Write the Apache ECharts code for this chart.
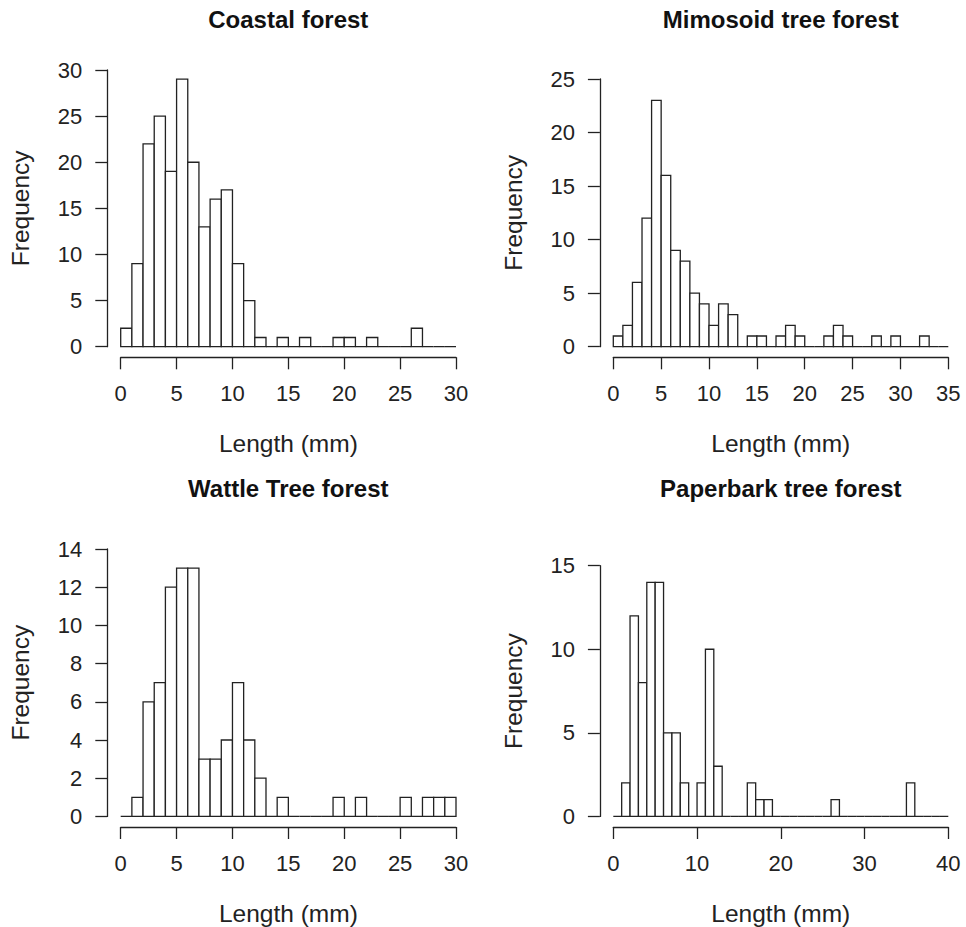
<!DOCTYPE html>
<html>
<head>
<meta charset="utf-8">
<script src="https://cdn.jsdelivr.net/npm/echarts@6/dist/echarts.min.js"></script>
<style>
  html, body { margin: 0; padding: 0; background: #fff; }
  #chart { width: 966px; height: 927px; }
</style>
</head>
<body>
<div id="chart"></div>
<script>
// histogram counts, bins of width 1 starting at 0
const coastalCounts = [2, 9, 22, 25, 19, 29, 20, 13, 16, 17, 9, 5, 1, 0, 1, 0, 1, 0, 0, 1, 1, 0, 1, 0, 0, 0, 2, 0, 0, 0]
const mimosoidCounts = [1, 2, 6, 12, 23, 16, 9, 8, 5, 4, 2, 4, 3, 0, 1, 1, 0, 1, 2, 1, 0, 0, 1, 2, 1, 0, 0, 1, 0, 1, 0, 0, 1, 0, 0]
const wattleCounts = [0, 1, 6, 7, 12, 13, 13, 3, 3, 4, 7, 4, 2, 0, 1, 0, 0, 0, 0, 1, 0, 1, 0, 0, 0, 1, 0, 1, 1, 1]
const paperbarkCounts = [0, 2, 12, 8, 14, 14, 5, 5, 2, 0, 2, 10, 3, 0, 0, 0, 2, 1, 1, 0, 0, 0, 0, 0, 0, 0, 1, 0, 0, 0, 0, 0, 0, 0, 0, 2, 0, 0, 0, 0]

const panelTitles = ['Coastal forest', 'Mimosoid tree forest', 'Wattle Tree forest', 'Paperbark tree forest']
const xMax = [30, 35, 30, 40]
const xStep = [5, 5, 5, 10]
const yMax = [30, 25, 14, 15]
const yStep = [5, 5, 2, 5]
const binWidth = 1

const allCounts = [coastalCounts, mimosoidCounts, wattleCounts, paperbarkCounts]

const FONT = '"Liberation Sans", Arial, Helvetica, sans-serif'
const INK = '#222'

// plot regions (px)
const grids = [
  { left: 120.7, right: 510, top: 70, bottom: 580.3 },
  { left: 613.3, right: 17.7, top: 79, bottom: 580.3 },
  { left: 120.7, right: 510, top: 549, bottom: 110.3 },
  { left: 613.3, right: 17.7, top: 565.7, bottom: 110.3 }
]
const titlePos = [[288.3, 19.5], [780.8, 19.5], [288.3, 488.5], [780.8, 488.5]]

var chartDom = document.getElementById('chart')
var myChart = echarts.init(chartDom, null, { renderer: 'svg' })

const renderBar = function (params, api) {
  const start = api.value(0)
  const count = api.value(1)
  const p0 = api.coord([start, 0])
  const p1 = api.coord([start + binWidth, count])
  return {
    type: 'rect',
    shape: { x: p0[0], y: p1[1], width: p1[0] - p0[0], height: p0[1] - p1[1] },
    style: { fill: '#fff', stroke: INK, lineWidth: 1.3 }
  }
}

const axisCommon = {
  type: 'value',
  splitLine: { show: false },
  axisLine: { show: true, onZero: false, lineStyle: { color: INK, width: 1.3 } },
  axisTick: { show: true, length: 12, lineStyle: { color: INK, width: 1.3 } },
  axisLabel: { color: INK, fontSize: 22, fontFamily: FONT },
  nameLocation: 'middle',
  nameGap: 74,
  nameTextStyle: { color: INK, fontSize: 24.5, fontFamily: FONT }
}

const xAxes = []
const yAxes = []
const series = []
const graphics = []
for (let i = 0; i < 4; i++) {
  xAxes.push(Object.assign({}, axisCommon, {
    gridIndex: i,
    min: 0,
    max: xMax[i],
    interval: xStep[i],
    offset: 10.6,
    name: 'Length (mm)',
    axisLabel: Object.assign({}, axisCommon.axisLabel, { margin: 25 })
  }))
  yAxes.push(Object.assign({}, axisCommon, {
    gridIndex: i,
    min: 0,
    max: yMax[i],
    interval: yStep[i],
    offset: 13.4,
    name: 'Frequency',
    nameRotate: 90,
    axisLabel: Object.assign({}, axisCommon.axisLabel, { margin: 25 })
  }))
  series.push({
    type: 'custom',
    xAxisIndex: i,
    yAxisIndex: i,
    renderItem: renderBar,
    encode: { x: 0, y: 1 },
    data: allCounts[i].map((c, k) => [k * binWidth, c])
  })
  graphics.push({
    type: 'text',
    x: titlePos[i][0],
    y: titlePos[i][1],
    style: {
      text: panelTitles[i],
      fill: '#111',
      font: 'bold 24px ' + FONT,
      align: 'center',
      verticalAlign: 'middle'
    }
  })
}

var option = {
  animation: false,
  backgroundColor: '#fff',
  grid: grids,
  xAxis: xAxes,
  yAxis: yAxes,
  series: series,
  graphic: graphics
}
option && myChart.setOption(option)
</script>
</body>
</html>
